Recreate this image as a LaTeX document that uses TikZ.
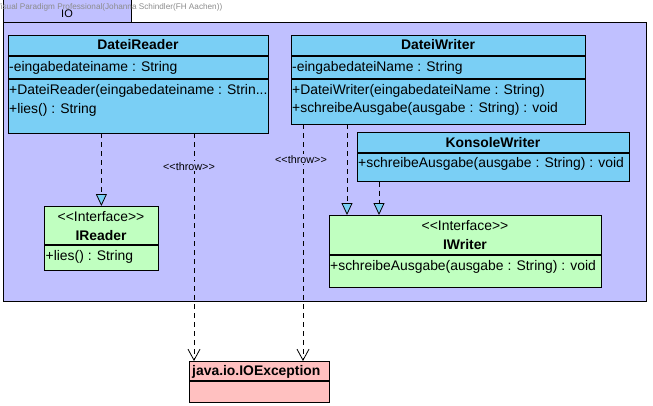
\documentclass[tikz,border=0pt]{standalone}
\usepackage{fontspec}
\setmainfont{Liberation Sans}[Ligatures=TeXOff]
\usetikzlibrary{arrows.meta}
\definecolor{vpblue}{RGB}{122,207,245}
\definecolor{vppkg}{RGB}{192,192,255}
\definecolor{vpgreen}{RGB}{192,255,192}
\definecolor{vpred}{RGB}{255,192,192}

\tikzset{
  box/.style={draw=black, line width=0.75pt, rectangle, anchor=north west, inner sep=0pt},
  member/.style={anchor=base west, inner sep=0pt, font=\fontsize{13.9}{16}\selectfont},
  title/.style={anchor=base, inner sep=0pt, font=\fontsize{13.9}{16}\selectfont\bfseries},
  stereo/.style={anchor=base, inner sep=0pt, font=\fontsize{13.9}{16}\selectfont},
  realize/.style={draw, line width=0.8pt, dash pattern=on 5pt off 4pt, -{Triangle[width=11pt,length=12pt,fill=vpblue]}},
  throws/.style={draw, line width=0.8pt, dash pattern=on 5pt off 4pt, -{Straight Barb[width=12pt,length=11pt]}},
  throwlabel/.style={fill=vppkg, inner sep=1pt, font=\fontsize{10.8}{12}\selectfont}
}

\begin{document}
\begin{tikzpicture}[x=1pt, y=-1pt]
\useasboundingbox (0,0) rectangle (653,405);

% package IO
\draw[fill=vppkg, line width=0.8pt] (3,-5) rectangle (131,22);
\draw[fill=vppkg, line width=0.8pt] (3,22) rectangle (646,301);
\node[anchor=base east, inner sep=0pt, text=black!45, font=\fontsize{8.2}{9}\selectfont] (mark) at (222.5,9.5) {Visual Paradigm Professional(Johanna Schindler(FH Aachen))};
\node[anchor=base, inner sep=0pt, font=\fontsize{11}{12}\selectfont] (pkgname) at (67,17.5) {IO};

% DateiReader
\node[box, fill=vpblue, minimum width=260pt, minimum height=20pt] (readerhead) at (8,35) {};
\node[box, fill=vpblue, minimum width=260pt, minimum height=22pt] (readerattr) at (readerhead.south west) {};
\node[box, fill=vpblue, minimum width=260pt, minimum height=54pt] (readerops) at (readerattr.south west) {};
\node[title] (readername) at (138,49) {DateiReader};
\node[member] (readerattrt) at (9,71.5) {-eingabedateiname : String};
\node[member] (readerop1) at (9,94) {+DateiReader(eingabedateiname : Strin...};
\node[member] (readerop2) at (9,113) {+lies() : String};

% DateiWriter
\node[box, fill=vpblue, minimum width=294pt, minimum height=20pt] (writerhead) at (291,35) {};
\node[box, fill=vpblue, minimum width=294pt, minimum height=22pt] (writerattr) at (writerhead.south west) {};
\node[box, fill=vpblue, minimum width=294pt, minimum height=45pt] (writerops) at (writerattr.south west) {};
\node[title] (writername) at (438,49) {DateiWriter};
\node[member] (writerattrt) at (292,71.5) {-eingabedateiName : String};
\node[member] (writerop1) at (292,94) {+DateiWriter(eingabedateiName : String)};
\node[member] (writerop2) at (292,112.5) {+schreibeAusgabe(ausgabe : String) : void};

% KonsoleWriter
\node[box, fill=vpblue, minimum width=272pt, minimum height=20pt] (konsolehead) at (357,132) {};
\node[box, fill=vpblue, minimum width=272pt, minimum height=28pt] (konsoleops) at (konsolehead.south west) {};
\node[title] (konsolename) at (493,147.5) {KonsoleWriter};
\node[member] (konsoleop) at (358,167.5) {+schreibeAusgabe(ausgabe : String) : void};

% IReader
\node[box, fill=vpgreen, minimum width=114pt, minimum height=38pt] (ireaderhead) at (44,206) {};
\node[box, fill=vpgreen, minimum width=114pt, minimum height=25pt] (ireaderops) at (ireaderhead.south west) {};
\node[stereo] (ireaderstereo) at (101,221.5) {<<Interface>>};
\node[title] (ireadername) at (101,240.5) {IReader};
\node[member] (ireaderop) at (45.5,260) {+lies() : String};

% IWriter
\node[box, fill=vpgreen, minimum width=272pt, minimum height=39pt] (iwriterhead) at (329,215) {};
\node[box, fill=vpgreen, minimum width=272pt, minimum height=32pt] (iwriterops) at (iwriterhead.south west) {};
\node[stereo] (iwriterstereo) at (465,230.5) {<<Interface>>};
\node[title] (iwritername) at (465,249.5) {IWriter};
\node[member] (iwriterop) at (330,270) {+schreibeAusgabe(ausgabe : String) : void};

% java.io.IOException
\node[box, fill=vpred, minimum width=140pt, minimum height=19pt] (exchead) at (189,361) {};
\node[box, fill=vpred, minimum width=140pt, minimum height=21pt] (excbody) at (exchead.south west) {};
\node[title, anchor=base west] (excname) at (192,375) {java.io.IOException};

% connectors
\draw[realize] (ireaderhead.north |- readerops.south) -- (ireaderhead.north);
\draw[realize] ([xshift=18pt]iwriterhead.north west |- writerops.south) -- ([xshift=18pt]iwriterhead.north west);
\draw[realize] ([xshift=50pt]iwriterhead.north west |- konsoleops.south) -- ([xshift=50pt]iwriterhead.north west);
\draw[throws] ([xshift=5pt]exchead.north west |- readerops.south) -- ([xshift=5pt]exchead.north west)
  node[throwlabel, pos=0.145, xshift=-5pt] (throwreader) {<<throw>>};
\draw[throws] ([xshift=114pt]exchead.north west |- writerops.south) -- ([xshift=114pt]exchead.north west)
  node[throwlabel, pos=0.148, xshift=-2pt] (throwwriter) {<<throw>>};

\end{tikzpicture}
\end{document}
